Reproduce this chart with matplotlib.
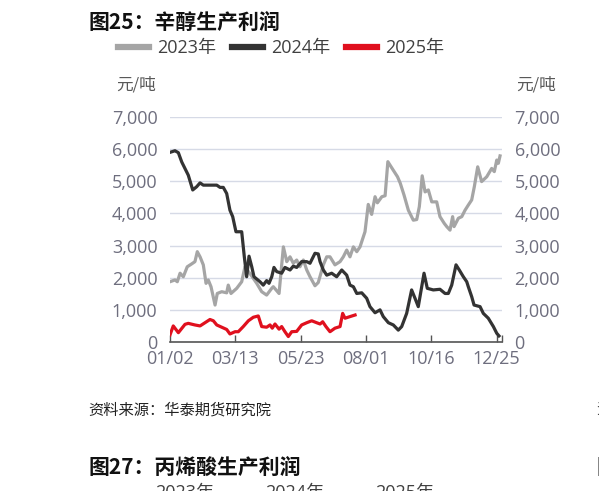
import matplotlib
matplotlib.use("Agg")
import matplotlib.pyplot as plt
from matplotlib.lines import Line2D
from matplotlib.ticker import StrMethodFormatter

# 交易日序号 (每 50 个交易日一个刻度)
tick_pos = [0, 50, 100, 150, 200, 250]
tick_labels = ["01/02", "03/13", "05/23", "08/01", "10/16", "12/25"]

x_2023 = [0, 3.8, 5.6, 7.7, 10.2, 13.2, 16.6, 19.1, 20.9, 23, 25.5, 27.6, 29.3, 31.4, 34.5,
          36.2, 39.6, 43.4, 44.6, 46.7, 51.1, 54.9, 57.4, 62.6, 66.4, 70.2, 74, 77.9, 79.1,
          83.5, 86.8, 89.4, 91.9, 94.4, 97, 99.5, 102.1, 104.7, 107.2, 111, 113.5, 117.4,
          120, 122.5, 126.3, 130.2, 132.7, 135.3, 137.8, 140.4, 143, 145.5, 149.3, 151.8,
          154.4, 157, 158.8, 162.2, 164.7, 166.8, 170.4, 174.2, 176.3, 179.2, 182.5, 186.3,
          188.9, 190.9, 193.1, 195.3, 197.8, 200.4, 204.2, 206.7, 210, 211.9, 214.4, 216.4,
          217.5, 220.8, 223.4, 225.9, 228.4, 231, 233, 235.6, 238.6, 242.5, 246.3, 248.3,
          250.2, 251.4, 252.7]
y_2023 = [1875, 1930, 1875, 2140, 2030, 2340, 2430, 2500, 2810, 2650, 2400, 1825, 1930, 1720, 1150,
          1510, 1565, 1530, 1770, 1510, 1670, 1875, 2340, 2050, 1825, 1565, 1460, 1670, 1720,
          1510, 2960, 2500, 2650, 2450, 2550, 2340, 2550, 2240, 2030, 1750, 1850, 2400,
          2650, 2650, 2400, 2500, 2650, 2860, 2650, 2960, 2810, 2960, 3430, 4280,
          3970, 4520, 4330, 4520, 4550, 5610, 5380, 5140, 4940, 4570, 4100, 3790,
          3810, 4210, 5170, 4670, 4730, 4360, 4360, 3900, 3690, 3590, 3480, 3900,
          3590, 3850, 3900, 4100, 4260, 4420, 4830, 5450, 4990, 5140, 5400, 5300,
          5660, 5560, 5790]

x_2024 = [0, 3.8, 6.4, 9, 14, 17.4, 20.4, 23, 25.5, 35.8, 38.3, 40.8, 43.4, 45.9, 48, 50.5,
          54.9, 56.9, 58.7, 60.5, 62.6, 64.3, 68.9, 71.4, 74, 75.8, 77.9, 79.6, 81.7, 85.5,
          88, 91.9, 94.4, 97, 100.8, 104.7, 107.2, 111, 113.5, 114.9, 117.4, 120, 123.8,
          127.6, 131.5, 135.3, 137.8, 140.4, 143, 146.8, 150.6, 153.1, 157, 160.8, 163.3,
          167.2, 171, 174.8, 177.4, 181.2, 185, 187.6, 190.1, 194.5, 197, 201.6, 206.7,
          210.6, 213.1, 215.7, 219, 221.5, 224.6, 227.2, 228.4, 231, 232.8, 237.4, 239.9,
          243.7, 247.6, 250.2, 251.9]
y_2024 = [5900, 5950, 5890, 5600, 5190, 4730, 4830, 4950, 4880, 4880, 4810, 4810, 4620, 4100, 3900, 3430,
          3430, 2650, 2030, 2670, 2340, 2030, 1875, 1770, 1910, 1825, 2030, 2320, 2190, 2140,
          2320, 2240, 2360, 2320, 2500, 2500, 2450, 2760, 2740, 2500, 2240, 2080, 2140,
          2030, 2240, 2080, 1770, 1720, 1510, 1530, 1360, 1100, 910, 1000, 790,
          600, 530, 370, 480, 890, 1620, 1360, 1100, 2140, 1670, 1620, 1640,
          1510, 1510, 1770, 2400, 2240, 2030, 1875, 1720, 1410, 1150, 1100, 890,
          740, 480, 270, 190]

x_2025 = [0, 2.5, 6.4, 11.5, 14, 19.1, 23, 26.8, 30.6, 33.2, 35.8, 39.6, 43.4, 45.9, 49.8,
          52.3, 56.1, 60, 63.8, 67.6, 70.2, 74, 76.6, 78.3, 80.4, 83.5, 85.5, 88, 90.6,
          93.2, 97, 100.8, 104.7, 108.5, 112.3, 114.9, 116.9, 119.4, 122.5, 126.3, 130.2,
          132.2, 134, 137.8, 141.7]
y_2025 = [220, 500, 290, 550, 580, 530, 500, 600, 700, 660, 530, 460, 390, 250, 320,
          320, 480, 660, 770, 810, 480, 460, 530, 430, 560, 400, 480, 320, 170,
          320, 330, 530, 600, 660, 600, 560, 630, 480, 320, 430, 480,
          890, 740, 790, 840]

series = [("2023年", x_2023, y_2023, "#A5A5A5"),
          ("2024年", x_2024, y_2024, "#333333"),
          ("2025年", x_2025, y_2025, "#E0101E")]

W, H = 599, 491
fig = plt.figure(figsize=(W / 100, H / 100), dpi=100)
ax = fig.add_axes([170 / W, 1 - 342 / H, (502 - 170) / W, (342 - 117) / H])

for name, xs, ys, c in series:
    ax.plot(xs, ys, color=c, lw=2.3, solid_joinstyle="round")

ax.set_xlim(0, 254.2)
ax.set_ylim(0, 7000)
ax.set_yticks(range(0, 7001, 1000))
ax.yaxis.set_major_formatter(StrMethodFormatter("{x:,.0f}"))
ax.grid(axis="y", color="#D6DAE6", lw=1.0)
ax.set_axisbelow(True)
for s in ["top", "left", "right"]:
    ax.spines[s].set_visible(False)
ax.spines["bottom"].set_color("#555555")
ax.spines["bottom"].set_linewidth(1.2)

ax.set_xticks(tick_pos + [254.2])
ax.set_xticklabels(tick_labels + [""])
ax.tick_params(axis="x", direction="in", length=5, width=1, color="#555555",
               labelsize=13, labelcolor="#6E6E7E", pad=6)
ax.tick_params(axis="y", length=0, labelsize=13, labelcolor="#6E6E7E", pad=9,
               labelleft=True, labelright=True)
for lab in ax.get_xticklabels() + ax.get_yticklabels():
    lab.set_family(["Open Sans", "DejaVu Sans"])

cjk = ["Noto Sans CJK SC", "DejaVu Sans"]
mixed = ["Open Sans", "Noto Sans CJK SC"]

fig.text(88 / W, 1 - 22 / H, "图25：辛醇生产利润", family=cjk, fontsize=15,
         fontweight="bold", va="center", ha="left", color="#111111")
fig.text(156 / W, 1 - 85 / H, "元/吨", family=cjk, fontsize=12, va="center",
         ha="right", color="#595959")
fig.text(516 / W, 1 - 85 / H, "元/吨", family=cjk, fontsize=12, va="center",
         ha="left", color="#595959")

handles = [Line2D([], [], color=c, lw=4.5) for _, _, _, c in series]
fig.legend(handles, [n for n, _, _, _ in series], loc="center left",
           bbox_to_anchor=(118 / W, 1 - 48 / H), ncol=3, frameon=False,
           prop={"family": mixed, "size": 13}, labelcolor="#404040",
           handlelength=1.7, handletextpad=0.45, columnspacing=0.9,
           borderpad=0, borderaxespad=0)

fig.text(88 / W, 1 - 410 / H, "资料来源：华泰期货研究院", family=cjk, fontsize=11,
         style="italic", va="center", ha="left", color="#222222")
fig.text(596 / W, 1 - 410 / H, "资", family=cjk, fontsize=11,
         va="center", ha="left", color="#222222")

fig.text(88 / W, 1 - 467 / H, "图27：丙烯酸生产利润", family=cjk, fontsize=15,
         fontweight="bold", va="center", ha="left", color="#111111")
fig.text(597 / W, 1 - 467 / H, "图", family=cjk, fontsize=15,
         fontweight="bold", va="center", ha="left", color="#111111")
for xp, t in zip([155, 265, 375], ["2023年", "2024年", "2025年"]):
    fig.text(xp / W, 1 - 484 / H, t, family=mixed, fontsize=13, va="top",
             ha="left", color="#404040")

fig.savefig("out.png", dpi=100)
